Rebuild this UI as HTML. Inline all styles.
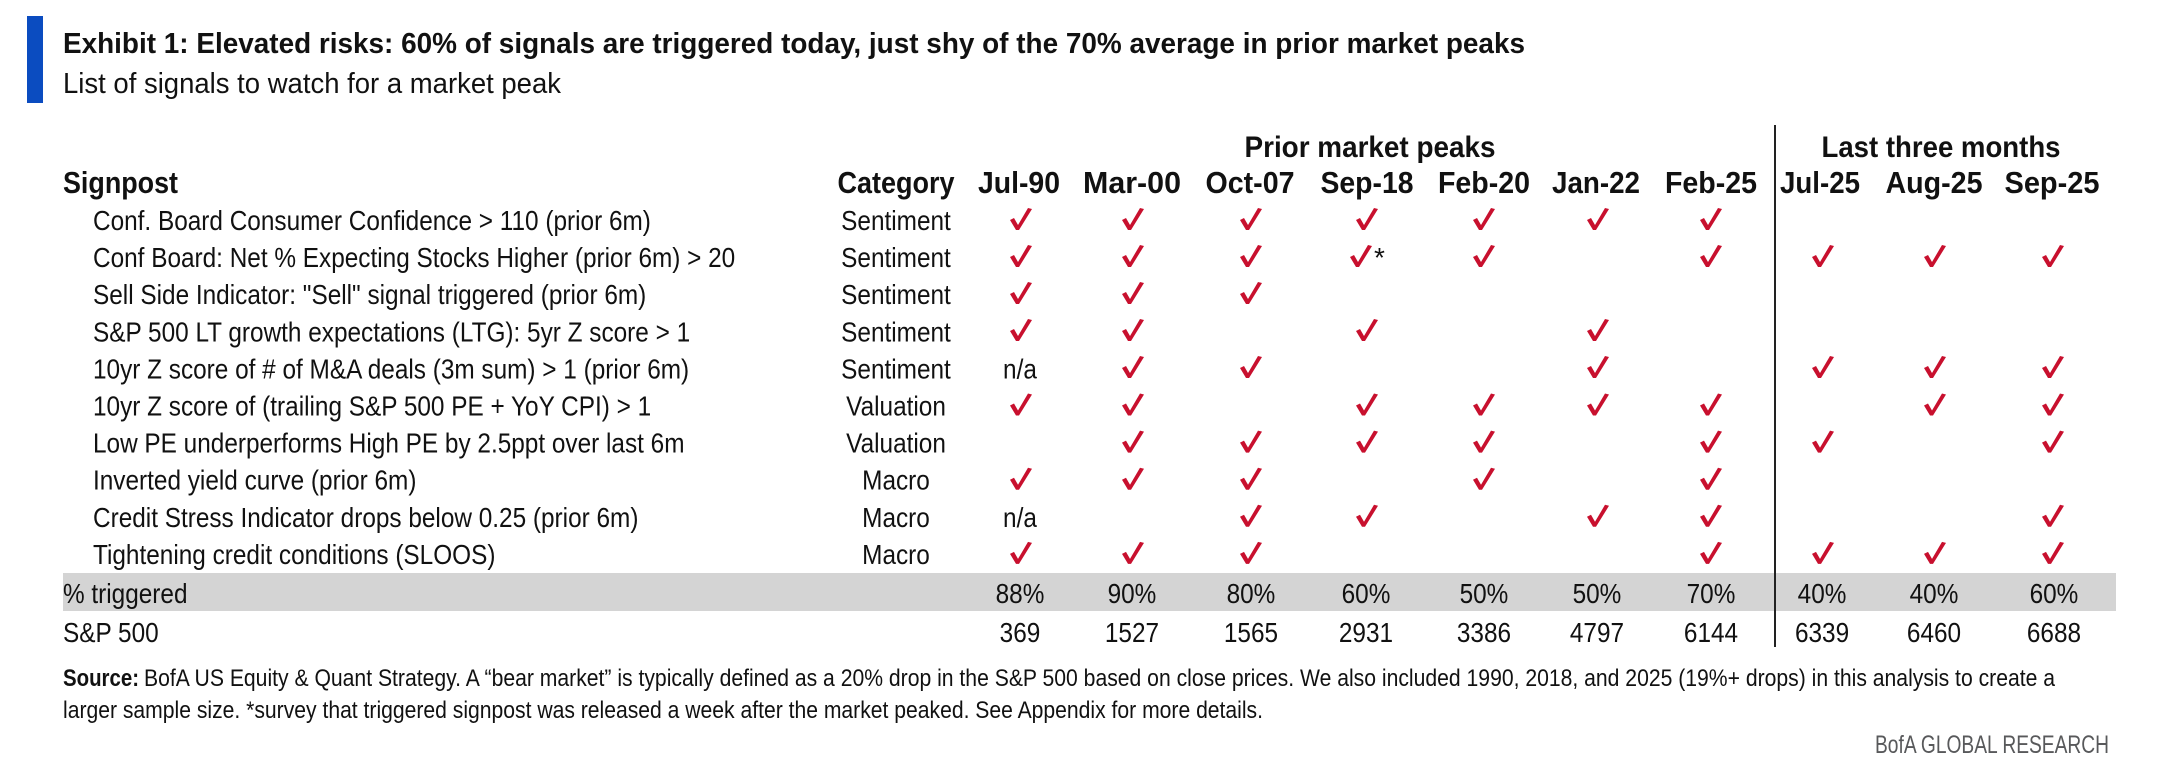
<!DOCTYPE html>
<html>
<head>
<meta charset="utf-8">
<style>
  html,body{margin:0;padding:0;background:#fff;}
  svg{display:block;}
  .t{font-family:"Liberation Sans",Arial,sans-serif;fill:#111;}
  .b{font-weight:bold;}
</style>
</head>
<body>
<svg width="2162" height="772" viewBox="0 0 2162 772" xmlns="http://www.w3.org/2000/svg">
  <defs>
    <polygon id="ck" points="-11,1 -7,-1 -3,6 7,-11 11,-10 -2,11 -5,11" fill="#c8102e"/>
  </defs>
  <rect x="0" y="0" width="2162" height="772" fill="#fff"/>

  <!-- blue bar -->
  <rect x="27" y="16" width="16" height="87" fill="#0b4cc0"/>

  <!-- title & subtitle -->
  <text class="t b" x="63" y="53" font-size="29" textLength="1462" lengthAdjust="spacingAndGlyphs" fill="#000">Exhibit 1: Elevated risks: 60% of signals are triggered today, just shy of the 70% average in prior market peaks</text>
  <text class="t" x="63" y="93" font-size="29" textLength="498" lengthAdjust="spacingAndGlyphs">List of signals to watch for a market peak</text>

  <!-- gray band -->
  <rect x="63" y="573" width="2053" height="38" fill="#d4d4d4"/>

  <!-- divider -->
  <rect x="1774" y="125" width="2" height="522" fill="#222"/>

  <!-- group headers -->
  <text class="t b" x="1370" y="157" font-size="30" text-anchor="middle" textLength="251" lengthAdjust="spacingAndGlyphs">Prior market peaks</text>
  <text class="t b" x="1941" y="157" font-size="30" text-anchor="middle" textLength="239" lengthAdjust="spacingAndGlyphs">Last three months</text>

  <!-- column headers -->
  <g class="t b" font-size="31">
    <text x="63" y="193" textLength="115" lengthAdjust="spacingAndGlyphs">Signpost</text>
    <text x="896" y="193" text-anchor="middle" textLength="117" lengthAdjust="spacingAndGlyphs">Category</text>
    <text x="1019" y="193" text-anchor="middle" textLength="82" lengthAdjust="spacingAndGlyphs">Jul-90</text>
    <text x="1132" y="193" text-anchor="middle" textLength="98" lengthAdjust="spacingAndGlyphs">Mar-00</text>
    <text x="1250" y="193" text-anchor="middle" textLength="89" lengthAdjust="spacingAndGlyphs">Oct-07</text>
    <text x="1367" y="193" text-anchor="middle" textLength="93" lengthAdjust="spacingAndGlyphs">Sep-18</text>
    <text x="1484" y="193" text-anchor="middle" textLength="92" lengthAdjust="spacingAndGlyphs">Feb-20</text>
    <text x="1596" y="193" text-anchor="middle" textLength="88" lengthAdjust="spacingAndGlyphs">Jan-22</text>
    <text x="1711" y="193" text-anchor="middle" textLength="92" lengthAdjust="spacingAndGlyphs">Feb-25</text>
    <text x="1820" y="193" text-anchor="middle" textLength="80" lengthAdjust="spacingAndGlyphs">Jul-25</text>
    <text x="1934" y="193" text-anchor="middle" textLength="97" lengthAdjust="spacingAndGlyphs">Aug-25</text>
    <text x="2052" y="193" text-anchor="middle" textLength="95" lengthAdjust="spacingAndGlyphs">Sep-25</text>
  </g>

  <!-- row labels & categories (scaled horizontally) -->
  <g class="t" font-size="28" transform="scale(0.87,1)">
    <text x="106.9" y="230">Conf. Board Consumer Confidence &gt; 110 (prior 6m)</text>
    <text x="106.9" y="267.1">Conf Board: Net % Expecting Stocks Higher (prior 6m) &gt; 20</text>
    <text x="106.9" y="304.2">Sell Side Indicator: "Sell" signal triggered (prior 6m)</text>
    <text x="106.9" y="341.3">S&amp;P 500 LT growth expectations (LTG): 5yr Z score &gt; 1</text>
    <text x="106.9" y="378.4">10yr Z score of # of M&amp;A deals (3m sum) &gt; 1 (prior 6m)</text>
    <text x="106.9" y="415.5">10yr Z score of (trailing S&amp;P 500 PE + YoY CPI) &gt; 1</text>
    <text x="106.9" y="452.6">Low PE underperforms High PE by 2.5ppt over last 6m</text>
    <text x="106.9" y="489.7">Inverted yield curve (prior 6m)</text>
    <text x="106.9" y="526.8">Credit Stress Indicator drops below 0.25 (prior 6m)</text>
    <text x="106.9" y="563.9">Tightening credit conditions (SLOOS)</text>

    <g text-anchor="middle">
      <text x="1029.9" y="230">Sentiment</text>
      <text x="1029.9" y="267.1">Sentiment</text>
      <text x="1029.9" y="304.2">Sentiment</text>
      <text x="1029.9" y="341.3">Sentiment</text>
      <text x="1029.9" y="378.4">Sentiment</text>
      <text x="1029.9" y="415.5">Valuation</text>
      <text x="1029.9" y="452.6">Valuation</text>
      <text x="1029.9" y="489.7">Macro</text>
      <text x="1029.9" y="526.8">Macro</text>
      <text x="1029.9" y="563.9">Macro</text>

      <text x="1172.4" y="378.4">n/a</text>
      <text x="1172.4" y="526.8">n/a</text>
    </g>

    <text x="72.4" y="603">% triggered</text>
    <text x="72.4" y="642">S&amp;P 500</text>

    <g text-anchor="middle">
      <text x="1172.4" y="603">88%</text>
      <text x="1301.1" y="603">90%</text>
      <text x="1437.9" y="603">80%</text>
      <text x="1570.1" y="603">60%</text>
      <text x="1705.7" y="603">50%</text>
      <text x="1835.6" y="603">50%</text>
      <text x="1966.7" y="603">70%</text>
      <text x="2094.3" y="603">40%</text>
      <text x="2223.0" y="603">40%</text>
      <text x="2360.9" y="603">60%</text>

      <text x="1172.4" y="642">369</text>
      <text x="1301.1" y="642">1527</text>
      <text x="1437.9" y="642">1565</text>
      <text x="1570.1" y="642">2931</text>
      <text x="1705.7" y="642">3386</text>
      <text x="1835.6" y="642">4797</text>
      <text x="1966.7" y="642">6144</text>
      <text x="2094.3" y="642">6339</text>
      <text x="2223.0" y="642">6460</text>
      <text x="2360.9" y="642">6688</text>
    </g>
  </g>

  <!-- asterisk -->
  <text class="t" x="1374" y="267" font-size="28">*</text>

  <!-- check marks: cx = 1021,1133,1251,1364,1484,1598,1711,1823,1935,2053 ; cy = baseline-11 -->
  <!-- row 0 cy=219 -->
  <use href="#ck" x="1021" y="219"/><use href="#ck" x="1133" y="219"/><use href="#ck" x="1251" y="219"/><use href="#ck" x="1367" y="219"/><use href="#ck" x="1484" y="219"/><use href="#ck" x="1598" y="219"/><use href="#ck" x="1711" y="219"/>
  <!-- row 1 cy=256 -->
  <use href="#ck" x="1021" y="256"/><use href="#ck" x="1133" y="256"/><use href="#ck" x="1251" y="256"/><use href="#ck" x="1361" y="256"/><use href="#ck" x="1484" y="256"/><use href="#ck" x="1711" y="256"/><use href="#ck" x="1823" y="256"/><use href="#ck" x="1935" y="256"/><use href="#ck" x="2053" y="256"/>
  <!-- row 2 cy=293 -->
  <use href="#ck" x="1021" y="293"/><use href="#ck" x="1133" y="293"/><use href="#ck" x="1251" y="293"/>
  <!-- row 3 cy=330 -->
  <use href="#ck" x="1021" y="330"/><use href="#ck" x="1133" y="330"/><use href="#ck" x="1367" y="330"/><use href="#ck" x="1598" y="330"/>
  <!-- row 4 cy=367 -->
  <use href="#ck" x="1133" y="367"/><use href="#ck" x="1251" y="367"/><use href="#ck" x="1598" y="367"/><use href="#ck" x="1823" y="367"/><use href="#ck" x="1935" y="367"/><use href="#ck" x="2053" y="367"/>
  <!-- row 5 cy=404.5 -->
  <use href="#ck" x="1021" y="404.5"/><use href="#ck" x="1133" y="404.5"/><use href="#ck" x="1367" y="404.5"/><use href="#ck" x="1484" y="404.5"/><use href="#ck" x="1598" y="404.5"/><use href="#ck" x="1711" y="404.5"/><use href="#ck" x="1935" y="404.5"/><use href="#ck" x="2053" y="404.5"/>
  <!-- row 6 cy=441.6 -->
  <use href="#ck" x="1133" y="441.6"/><use href="#ck" x="1251" y="441.6"/><use href="#ck" x="1367" y="441.6"/><use href="#ck" x="1484" y="441.6"/><use href="#ck" x="1711" y="441.6"/><use href="#ck" x="1823" y="441.6"/><use href="#ck" x="2053" y="441.6"/>
  <!-- row 7 cy=478.7 -->
  <use href="#ck" x="1021" y="478.7"/><use href="#ck" x="1133" y="478.7"/><use href="#ck" x="1251" y="478.7"/><use href="#ck" x="1484" y="478.7"/><use href="#ck" x="1711" y="478.7"/>
  <!-- row 8 cy=515.8 -->
  <use href="#ck" x="1251" y="515.8"/><use href="#ck" x="1367" y="515.8"/><use href="#ck" x="1598" y="515.8"/><use href="#ck" x="1711" y="515.8"/><use href="#ck" x="2053" y="515.8"/>
  <!-- row 9 cy=552.9 -->
  <use href="#ck" x="1021" y="552.9"/><use href="#ck" x="1133" y="552.9"/><use href="#ck" x="1251" y="552.9"/><use href="#ck" x="1711" y="552.9"/><use href="#ck" x="1823" y="552.9"/><use href="#ck" x="1935" y="552.9"/><use href="#ck" x="2053" y="552.9"/>

  <!-- source -->
  <text class="t b" x="63" y="686" font-size="24" textLength="76" lengthAdjust="spacingAndGlyphs">Source:</text>
  <text class="t" x="144" y="686" font-size="24" textLength="1911" lengthAdjust="spacingAndGlyphs">BofA US Equity &amp; Quant Strategy. A “bear market” is typically defined as a 20% drop in the S&amp;P 500 based on close prices. We also included 1990, 2018, and 2025 (19%+ drops) in this analysis to create a</text>
  <text class="t" x="63" y="718" font-size="24" textLength="1200" lengthAdjust="spacingAndGlyphs">larger sample size. *survey that triggered signpost was released a week after the market peaked. See Appendix for more details.</text>

  <!-- footer -->
  <text class="t" x="1875" y="753" font-size="25" textLength="234" lengthAdjust="spacingAndGlyphs" fill="#58595b" style="fill:#58595b">BofA GLOBAL RESEARCH</text>
</svg>
</body>
</html>
